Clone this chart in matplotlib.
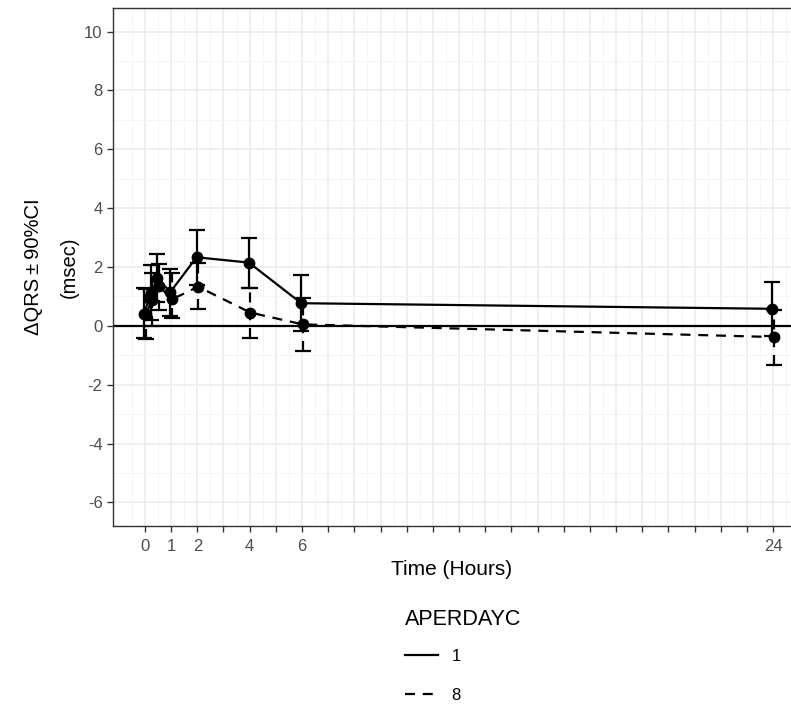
import numpy as np
import matplotlib.pyplot as plt
from matplotlib.ticker import FixedLocator, MultipleLocator

plt.rcParams['font.family'] = ['Liberation Sans', 'DejaVu Sans']
plt.rcParams['axes.unicode_minus'] = False

# nominal times (hours)
times = [0, 0.25, 0.5, 1, 2, 4, 6, 24]

# APERDAYC = 1
mean_1 = [0.42, 1.10, 1.62, 1.15, 2.33, 2.15, 0.77, 0.58]
lo_1 = [-0.40, 0.20, 0.80, 0.35, 1.40, 1.30, -0.19, -0.35]
hi_1 = [1.28, 2.08, 2.45, 1.92, 3.25, 2.98, 1.73, 1.50]

# APERDAYC = 8
mean_8 = [0.40, 0.88, 1.36, 0.90, 1.33, 0.45, 0.05, -0.38]
lo_8 = [-0.45, 0.00, 0.55, 0.28, 0.57, -0.42, -0.84, -1.32]
hi_8 = [1.25, 1.78, 2.10, 1.78, 2.12, 1.29, 0.95, 0.55]

groups = ['1', '8']
styles = {'1': '-', '8': (0, (4.5, 3.5))}
dodge = {'1': -0.03, '8': 0.03}

fig = plt.figure(figsize=(7.91, 7.07), dpi=100)
ax = fig.add_axes([0.1429, 0.256, 0.8571, 0.7327])

# theme_bw-like panel
ax.set_facecolor('white')
for side in ['left', 'top', 'bottom']:
    ax.spines[side].set_color('#333333')
    ax.spines[side].set_linewidth(1.0)
ax.spines['right'].set_visible(False)

ax.set_xlim(-1.22, 24.68)
ax.set_ylim(-6.8, 10.8)

ax.xaxis.set_major_locator(FixedLocator(np.arange(0, 25, 1)))
ax.xaxis.set_minor_locator(FixedLocator(np.arange(-0.5, 25, 1)))
xlabels = ['' for _ in range(25)]
for t in [0, 1, 2, 4, 6, 24]:
    xlabels[t] = str(t)
ax.set_xticklabels(xlabels)

ax.yaxis.set_major_locator(MultipleLocator(2))
ax.yaxis.set_minor_locator(MultipleLocator(1))

ax.grid(True, which='major', color='#EBEBEB', linewidth=1.1)
ax.grid(True, which='minor', color='#F4F4F4', linewidth=0.6)
ax.set_axisbelow(True)

ax.tick_params(which='major', length=4, width=1, color='#333333',
               labelsize=12, labelcolor='#4D4D4D')
ax.tick_params(axis='x', which='major', pad=5)
ax.tick_params(which='minor', length=0)

ax.axhline(0, color='black', linewidth=1.6, zorder=2)

series = {'1': (mean_1, lo_1, hi_1), '8': (mean_8, lo_8, hi_8)}
for g in groups:
    m, lo, hi = series[g]
    x = np.array(times) + dodge[g]
    m = np.array(m)
    yerr = [m - np.array(lo), np.array(hi) - m]
    eb = ax.errorbar(x, m, yerr=yerr, fmt='none', ecolor='black',
                     elinewidth=1.6, capsize=6, capthick=1.6, zorder=3)
    for col in eb[2]:
        col.set_linestyle(styles[g])
    ax.plot(x, m, color='black', linewidth=1.6, linestyle=styles[g],
            zorder=4, label=g)
    ax.plot(x, m, 'o', color='black', markersize=7.5, zorder=5)

ax.set_xlabel('Time (Hours)', fontsize=15, labelpad=5)
ax.set_ylabel('\u0394QRS\u2009\u00b1\u200990%CI\n(msec)', fontsize=14.5,
              labelpad=4, linespacing=2.1)

handles, labels = ax.get_legend_handles_labels()
leg = fig.legend(handles, labels, title='APERDAYC', loc='upper left',
                 bbox_to_anchor=(398 / 791, 1 - 602 / 707), frameon=False,
                 fontsize=12, title_fontsize=15.5, handlelength=2.0,
                 handletextpad=0.8, labelspacing=1.45, borderaxespad=0)
leg._legend_box.align = 'left'
leg._legend_box.sep = 14

fig.savefig('out.png', dpi=100)
